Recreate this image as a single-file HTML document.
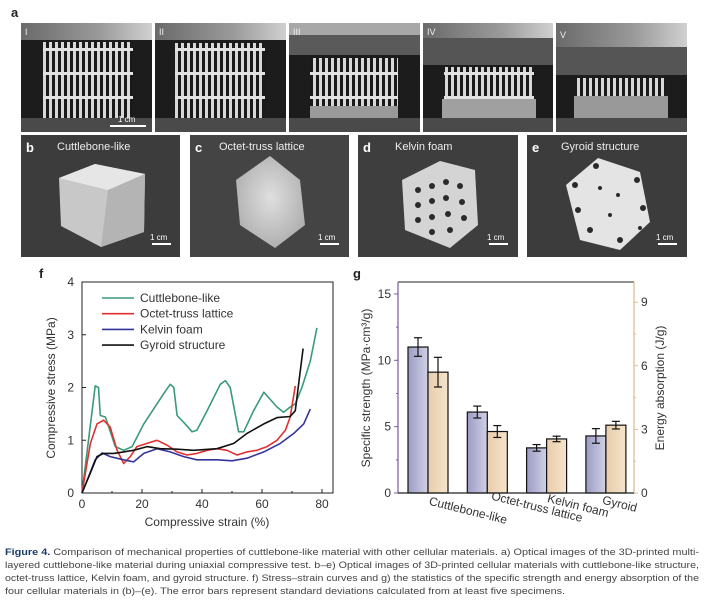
<!DOCTYPE html>
<html><head><meta charset="utf-8"><style>
html,body{margin:0;padding:0;background:#fff;}
body{width:704px;height:601px;overflow:hidden;font-family:"Liberation Sans",sans-serif;}
svg{display:block}
</style></head><body>
<svg width="704" height="601" viewBox="0 0 704 601" xmlns="http://www.w3.org/2000/svg">
<defs>
  <pattern id="bars" width="6" height="24" patternUnits="userSpaceOnUse">
    <rect x="0" y="0" width="6" height="24" fill="#1a1a1a"/>
    <rect x="1" y="0" width="3" height="24" fill="#d8d8d8"/>
    <rect x="0" y="0" width="6" height="3" fill="#e2e2e2"/>
  </pattern>
  <linearGradient id="plate" x1="0" x2="1"><stop offset="0" stop-color="#6a6a6a"/><stop offset="0.6" stop-color="#9a9a9a"/><stop offset="1" stop-color="#d0d0d0"/></linearGradient>
  <linearGradient id="bblue" x1="0" x2="1"><stop offset="0" stop-color="#9c9cc4"/><stop offset="1" stop-color="#d0d0e6"/></linearGradient>
  <linearGradient id="borange" x1="0" x2="1"><stop offset="0" stop-color="#e8ccaa"/><stop offset="1" stop-color="#f6e4cc"/></linearGradient>
  <radialGradient id="obj" cx="0.5" cy="0.45" r="0.6"><stop offset="0" stop-color="#f0f0f0"/><stop offset="1" stop-color="#b8b8b8"/></radialGradient>
</defs>

<!-- Panel a -->
<text x="11" y="17" font-size="13" font-weight="bold" fill="#222">a</text>
<g>
  <rect x="21" y="23" width="131" height="109" fill="#1c1c1c"/>
  <rect x="21" y="23" width="131" height="17" fill="url(#plate)"/>
  <rect x="43" y="42" width="90" height="76" fill="url(#bars)"/>
  <rect x="21" y="118" width="131" height="14" fill="#4a4a4a"/>
  <text x="25" y="35" font-size="9" fill="#eee">I</text>
  <rect x="110" y="125" width="36" height="2" fill="#fff"/><text x="118" y="122" font-size="8" fill="#fff">1 cm</text>
</g>
<g>
  <rect x="155" y="23" width="131" height="109" fill="#1c1c1c"/>
  <rect x="155" y="23" width="131" height="17" fill="url(#plate)"/>
  <rect x="175" y="43" width="90" height="75" fill="url(#bars)"/>
  <rect x="155" y="118" width="131" height="14" fill="#4a4a4a"/>
  <text x="159" y="35" font-size="9" fill="#eee">II</text>
</g>
<g>
  <rect x="289" y="23" width="131" height="109" fill="#1c1c1c"/>
  <rect x="289" y="23" width="131" height="12" fill="#a8a8a8"/>
  <rect x="289" y="35" width="131" height="20" fill="#5a5a5a"/>
  <rect x="310" y="58" width="88" height="60" fill="url(#bars)"/>
  <rect x="310" y="106" width="88" height="12" fill="#9a9a9a"/>
  <rect x="289" y="118" width="131" height="14" fill="#4a4a4a"/>
  <text x="293" y="35" font-size="9" fill="#eee">III</text>
</g>
<g>
  <rect x="423" y="23" width="130" height="109" fill="#1c1c1c"/>
  <rect x="423" y="23" width="130" height="15" fill="url(#plate)"/>
  <rect x="423" y="38" width="130" height="27" fill="#555"/>
  <rect x="444" y="67" width="90" height="51" fill="url(#bars)"/>
  <rect x="442" y="99" width="94" height="19" fill="#a0a0a0"/>
  <rect x="423" y="118" width="130" height="14" fill="#4a4a4a"/>
  <text x="427" y="35" font-size="9" fill="#eee">IV</text>
</g>
<g>
  <rect x="556" y="23" width="131" height="109" fill="#1c1c1c"/>
  <rect x="556" y="23" width="131" height="24" fill="url(#plate)"/>
  <rect x="556" y="47" width="131" height="28" fill="#555"/>
  <rect x="576" y="78" width="90" height="40" fill="url(#bars)"/>
  <rect x="574" y="96" width="94" height="22" fill="#999"/>
  <rect x="556" y="118" width="131" height="14" fill="#4a4a4a"/>
  <text x="560" y="38" font-size="9" fill="#eee">V</text>
</g>

<!-- Panels b-e -->
<g>
  <rect x="21" y="135" width="159" height="122" fill="#3c3c3c"/>
  <text x="26" y="152" font-size="13" font-weight="bold" fill="#fff">b</text>
  <text x="57" y="150" font-size="11" fill="#eee">Cuttlebone-like</text>
  <polygon points="59,178 95,164 145,174 144,232 101,247 61,226" fill="#c8c8c8"/>
  <polygon points="59,178 95,164 145,174 108,190" fill="#e6e6e6"/>
  <polygon points="108,190 145,174 144,232 101,247" fill="#b4b4b4"/>
  <rect x="152" y="243" width="19" height="2" fill="#fff"/><text x="150" y="240" font-size="8" fill="#fff">1 cm</text>
</g>
<g>
  <rect x="190" y="135" width="159" height="122" fill="#444"/>
  <text x="195" y="152" font-size="13" font-weight="bold" fill="#fff">c</text>
  <text x="219" y="150" font-size="11" fill="#eee">Octet-truss lattice</text>
  <polygon points="270,156 300,180 305,225 275,248 240,225 236,180" fill="url(#obj)" opacity="0.9"/>
  <rect x="320" y="243" width="19" height="2" fill="#fff"/><text x="318" y="240" font-size="8" fill="#fff">1 cm</text>
</g>
<g>
  <rect x="358" y="135" width="160" height="122" fill="#3e3e3e"/>
  <text x="363" y="152" font-size="13" font-weight="bold" fill="#fff">d</text>
  <text x="395" y="150" font-size="11" fill="#eee">Kelvin foam</text>
  <polygon points="440,161 475,170 478,225 450,248 405,230 402,180" fill="#d4d4d4"/>
  <g fill="#2a2a2a">
    <circle cx="418" cy="190" r="3"/><circle cx="432" cy="186" r="3"/><circle cx="446" cy="182" r="3"/><circle cx="460" cy="186" r="3"/>
    <circle cx="418" cy="205" r="3"/><circle cx="432" cy="201" r="3"/><circle cx="446" cy="198" r="3"/><circle cx="462" cy="202" r="3"/>
    <circle cx="418" cy="220" r="3"/><circle cx="432" cy="217" r="3"/><circle cx="448" cy="214" r="3"/><circle cx="464" cy="218" r="3"/>
    <circle cx="432" cy="232" r="3"/><circle cx="450" cy="230" r="3"/>
  </g>
  <rect x="489" y="243" width="19" height="2" fill="#fff"/><text x="487" y="240" font-size="8" fill="#fff">1 cm</text>
</g>
<g>
  <rect x="527" y="135" width="160" height="122" fill="#3c3c3c"/>
  <text x="532" y="152" font-size="13" font-weight="bold" fill="#fff">e</text>
  <text x="561" y="150" font-size="11" fill="#eee">Gyroid structure</text>
  <polygon points="598,158 640,172 650,222 620,250 580,240 566,185" fill="#e4e4e4"/>
  <g fill="#2a2a2a">
    <circle cx="596" cy="166" r="3"/><circle cx="575" cy="185" r="3"/><circle cx="637" cy="180" r="3"/><circle cx="600" cy="188" r="2"/>
    <circle cx="618" cy="195" r="2"/><circle cx="578" cy="210" r="3"/><circle cx="643" cy="208" r="3"/><circle cx="610" cy="215" r="2"/>
    <circle cx="590" cy="230" r="3"/><circle cx="620" cy="240" r="3"/><circle cx="640" cy="228" r="2"/>
  </g>
  <rect x="658" y="243" width="19" height="2" fill="#fff"/><text x="656" y="240" font-size="8" fill="#fff">1 cm</text>
</g>

<!-- Chart f -->
<g id="chartF">
  <text x="39" y="278" font-size="13" font-weight="bold" fill="#222">f</text>
  <rect x="82" y="282" width="251" height="211" fill="none" stroke="#222" stroke-width="1"/>
  <text x="207" y="526" font-size="12" fill="#333" text-anchor="middle">Compressive strain (%)</text>
  <text transform="translate(55,388) rotate(-90)" font-size="12" fill="#333" text-anchor="middle">Compressive stress (MPa)</text>
  <g id="fTicks"></g>
  <g id="fLines"></g>
  <g id="fLegend"></g>
</g>

<!-- Chart g -->
<g id="chartG">
  <text x="353" y="278" font-size="13" font-weight="bold" fill="#222">g</text>
  <line x1="398" y1="282" x2="634" y2="282" stroke="#222"/>
  <line x1="398" y1="282" x2="398" y2="493" stroke="#7a5aa0" stroke-width="1.2"/>
  <line x1="634" y1="282" x2="634" y2="493" stroke="#d8bb90" stroke-width="1.2"/>
  <text transform="translate(370,388) rotate(-90)" font-size="12" fill="#333" text-anchor="middle">Specific strength (MPa·cm³/g)</text>
  <text transform="translate(664,388) rotate(-90)" font-size="12" fill="#333" text-anchor="middle">Energy absorption (J/g)</text>
  <g id="gTicks"></g>
  <g id="gBars"></g>
  <line x1="398" y1="493" x2="634" y2="493" stroke="#222" stroke-width="1.2"/>
  <g id="gLabels"></g>
</g>

<!-- Caption -->
<g font-size="9.2" fill="#444">
  <text x="5" y="555" textLength="694" lengthAdjust="spacingAndGlyphs"><tspan fill="#1a3a6a" font-weight="bold">Figure 4.</tspan> Comparison of mechanical properties of cuttlebone-like material with other cellular materials. a) Optical images of the 3D-printed multi-</text>
  <text x="5" y="568" textLength="694" lengthAdjust="spacingAndGlyphs">layered cuttlebone-like material during uniaxial compressive test. b–e) Optical images of 3D-printed cellular materials with cuttlebone-like structure,</text>
  <text x="5" y="581" textLength="694" lengthAdjust="spacingAndGlyphs">octet-truss lattice, Kelvin foam, and gyroid structure. f) Stress–strain curves and g) the statistics of the specific strength and energy absorption of the</text>
  <text x="5" y="594" textLength="560" lengthAdjust="spacingAndGlyphs">four cellular materials in (b)–(e). The error bars represent standard deviations calculated from at least five specimens.</text>
</g>
</svg>

<script>
// ---- Chart f data ----
const fXTicks = [0, 20, 40, 60, 80];
const fYTicks = [0, 1, 2, 3, 4];
const seriesNames = ["Cuttlebone-like", "Octet-truss lattice", "Kelvin foam", "Gyroid structure"];
const cuttleStrain = [0,4.4,5.5,6.1,7.8,11.1,13.9,16.7,20.6,27.2,29.4,30.6,31.7,33.9,36.7,38.3,41.7,46.1,47.8,49.4,52.2,53.9,57.2,60.6,61.7,65,67.2,69.4,71.1,73.3,76.1,78.3];
const cuttleStress = [0,2.03,2.0,1.47,1.44,0.88,0.81,0.88,1.31,1.88,2.06,2.0,1.47,1.34,1.16,1.19,1.56,2.06,2.13,2.0,1.16,1.16,1.56,1.91,1.84,1.63,1.53,1.63,1.69,2.0,2.5,3.13];
const octetStrain = [0,2.8,5,7.2,9.4,11.7,13.9,16.1,18.3,21.7,25,28.3,31.7,35,38.3,41.7,45,48.3,51.7,55,58.3,61.7,65,67.8,69.4,71.1];
const octetStress = [0,0.94,1.31,1.38,1.25,0.81,0.56,0.69,0.88,0.94,1.0,0.91,0.78,0.72,0.75,0.81,0.84,0.81,0.72,0.78,0.81,0.88,1.0,1.19,1.44,2.03];
const kelvinStrain = [0,2.2,4.4,6.7,9.4,13.9,17.2,20.6,25,29.4,33.9,38.3,45,50,55,60.6,66.1,70.6,73.9,76.1];
const kelvinStress = [0,0.31,0.63,0.76,0.69,0.63,0.59,0.75,0.84,0.78,0.69,0.63,0.63,0.61,0.66,0.78,0.94,1.13,1.31,1.59];
const gyroidStrain = [0,2.8,5,7.2,10.6,13.9,17.2,21.7,26.1,31.7,37.2,45,50.6,55,60.6,65,69.4,71.1,72.2,73.7];
const gyroidStress = [0,0.38,0.69,0.75,0.75,0.78,0.81,0.88,0.84,0.83,0.81,0.84,0.94,1.13,1.31,1.43,1.45,1.56,2.06,2.74];

// ---- Chart g data ----
const gCategories = ["Cuttlebone-like", "Octet-truss lattice", "Kelvin foam", "Gyroid"];
const strengthValues = [11.0, 6.1, 3.4, 4.3];
const strengthErrors = [0.7, 0.45, 0.25, 0.55];
const energyValues = [5.7, 2.9, 2.55, 3.2];
const energyErrors = [0.7, 0.28, 0.13, 0.18];
const gLeftTicks = [0, 5, 10, 15];
const gRightTicks = [0, 3, 6, 9];

const NS = "http://www.w3.org/2000/svg";
function mk(tag, attrs, parent, txt){const e=document.createElementNS(NS,tag);for(const k in attrs)e.setAttribute(k,attrs[k]);if(txt!==undefined)e.textContent=txt;parent.appendChild(e);return e;}

const fx = v => 82 + v * 3;
const fy = v => 493 - v * 52.75;
const fTicks = document.getElementById('fTicks');
fXTicks.forEach(t=>{
  const tl = mk('line',{x1:fx(t),x2:fx(t),y1:493,y2:489,stroke:'#222'},fTicks);
  
  
  const lb = mk('text',{x:fx(t),y:508,'font-size':12,'text-anchor':'middle',fill:'#333'},fTicks,String(t));
  
  
});
[10,30,50,70].forEach(t=>{mk('line',{x1:fx(t),x2:fx(t),y1:493,y2:491,stroke:'#222'},fTicks);});
fYTicks.forEach(t=>{
  const tl = mk('line',{x1:82,x2:86,y1:fy(t),y2:fy(t),stroke:'#222'},fTicks);
  
  
  const lb = mk('text',{x:74,y:fy(t)+4,'font-size':12,'text-anchor':'end',fill:'#333'},fTicks,String(t));
  
  
});
const fLines = document.getElementById('fLines');
const fSeries = [[cuttleStrain,cuttleStress,'#3a9a7a','cuttlebone-line'],[octetStrain,octetStress,'#e03030','octet-truss-line'],[kelvinStrain,kelvinStress,'#34349a','kelvin-foam-line'],[gyroidStrain,gyroidStress,'#111','gyroid-line']];
fSeries.forEach(s=>{
  const pts = s[0].map((x,i)=>fx(x).toFixed(1)+','+fy(s[1][i]).toFixed(1)).join(' ');
  const pl = mk('polyline',{points:pts,fill:'none',stroke:s[2],'stroke-width':1.6,'stroke-linejoin':'round'},fLines);
  
  
});
const fLegend = document.getElementById('fLegend');
seriesNames.forEach((n,i)=>{
  const y = 298 + i*15.7;
  const g = mk('g',{},fLegend);
  
  
  mk('line',{x1:102,x2:134,y1:y,y2:y,stroke:fSeries[i][2],'stroke-width':1.6},g);
  mk('text',{x:140,y:y+4,'font-size':12,fill:'#333'},g,n);
});

const gyL = v => 493 - v * 13.27;
const gyR = v => 493 - v * 21.2;
const gBand = i => 408 + i * 59.3;
const gTicks = document.getElementById('gTicks');
gLeftTicks.forEach(t=>{
  mk('line',{x1:398,x2:394,y1:gyL(t),y2:gyL(t),stroke:'#7a5aa0'},gTicks);
  const lb = mk('text',{x:391,y:gyL(t)+4,'font-size':12,'text-anchor':'end',fill:'#333'},gTicks,String(t));
  
  
});
[2.5,7.5,12.5].forEach(t=>mk('line',{x1:398,x2:396,y1:gyL(t),y2:gyL(t),stroke:'#7a5aa0'},gTicks));
gRightTicks.forEach(t=>{
  mk('line',{x1:634,x2:638,y1:gyR(t),y2:gyR(t),stroke:'#d8bb90'},gTicks);
  const lb = mk('text',{x:641,y:gyR(t)+4,'font-size':12,fill:'#333'},gTicks,String(t));
  
  
});
[1.5,4.5,7.5].forEach(t=>mk('line',{x1:634,x2:636,y1:gyR(t),y2:gyR(t),stroke:'#d8bb90'},gTicks));
const gBars = document.getElementById('gBars');
function errBar(cx, top, bot, parent){
  mk('line',{x1:cx,x2:cx,y1:top,y2:bot,stroke:'#111','stroke-width':1.2},parent);
  mk('line',{x1:cx-4,x2:cx+4,y1:top,y2:top,stroke:'#111','stroke-width':1.2},parent);
  mk('line',{x1:cx-4,x2:cx+4,y1:bot,y2:bot,stroke:'#111','stroke-width':1.2},parent);
}
gCategories.forEach((c,i)=>{
  const x0 = gBand(i);
  const b1 = mk('rect',{x:x0,y:gyL(strengthValues[i]),width:20,height:493-gyL(strengthValues[i]),fill:'url(#bblue)',stroke:'#111','stroke-width':1.2},gBars);
  
  
  errBar(x0+10, gyL(strengthValues[i]+strengthErrors[i]), gyL(strengthValues[i]-strengthErrors[i]), gBars);
  const b2 = mk('rect',{x:x0+20,y:gyR(energyValues[i]),width:20,height:493-gyR(energyValues[i]),fill:'url(#borange)',stroke:'#111','stroke-width':1.2},gBars);
  
  
  errBar(x0+30, gyR(energyValues[i]+energyErrors[i]), gyR(energyValues[i]-energyErrors[i]), gBars);
});
const gLabels = document.getElementById('gLabels');
gCategories.forEach((c,i)=>{
  const lb = mk('text',{x:0,y:0,'font-size':12,'text-anchor':'end',fill:'#333',transform:`translate(${gBand(i)+40+ (i==0?58:i==1?74:i==2?41:10)},${512+ (i==0?12:i==1?10:i==2?5:0)}) rotate(14)`},gLabels,c);
  
  
});
</script>
</body></html>
